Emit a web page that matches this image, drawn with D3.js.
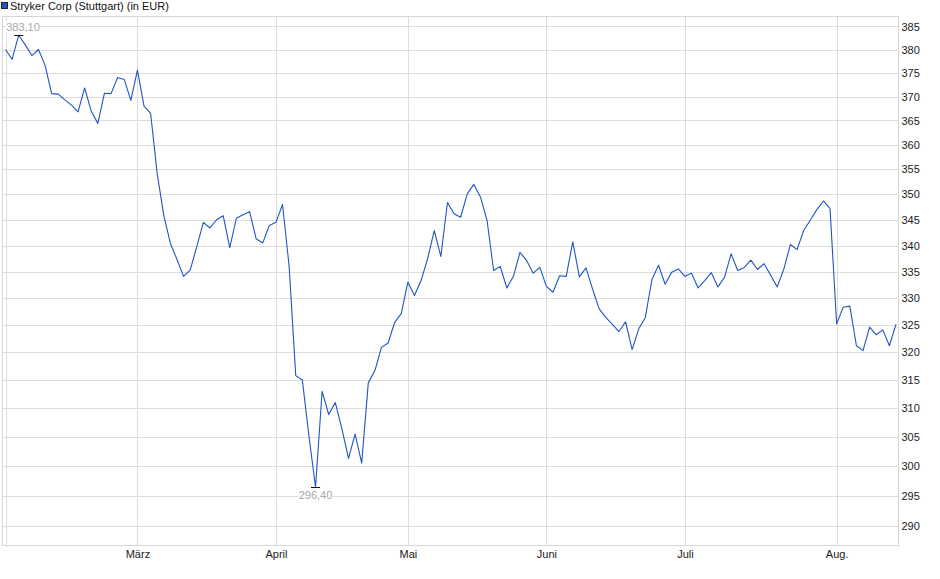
<!DOCTYPE html>
<html><head><meta charset="utf-8">
<script src="https://cdn.jsdelivr.net/npm/d3@7"></script>
<style>
html,body{margin:0;padding:0;background:#fff;}
svg{display:block;font-family:"Liberation Sans",Arial,sans-serif;}
</style></head>
<body>
<svg id="chart" width="940" height="579"></svg>
<script>
const seriesName = "Stryker Corp (Stuttgart) (in EUR)";
const prices = [
 380.0,377.9,383.1,381.0,378.7,380.0,376.6,370.6,370.5,369.3,
 368.2,366.8,371.8,366.9,364.4,370.7,370.6,374.0,373.6,369.2,
 375.6,368.0,366.5,354.1,345.8,340.4,337.3,334.1,335.3,339.8,
 344.5,343.4,345.0,345.8,339.6,345.3,346.0,346.6,341.3,340.5,
 343.9,344.5,348.0,336.0,315.8,315.0,305.2,296.4,313.0,308.9,
 311.0,306.4,301.3,305.5,300.5,314.5,316.7,320.9,321.7,325.5,
 327.1,333.0,330.5,333.3,337.5,342.9,337.9,348.4,346.2,345.5,
 350.1,352.0,349.5,344.9,335.2,336.0,331.9,334.1,338.7,337.1,
 334.7,335.8,332.2,331.1,334.2,334.1,340.7,334.0,335.7,331.7,
 328.0,326.4,325.1,323.8,325.6,320.5,324.3,326.4,333.5,336.2,
 332.6,334.9,335.5,334.1,334.7,331.9,333.3,334.8,332.1,333.9,
 338.4,335.2,335.8,337.2,335.4,336.5,334.3,332.1,335.5,340.2,
 339.2,342.9,344.9,347.0,348.7,347.2,325.2,328.3,328.5,321.2,
 320.3,324.6,323.2,324.1,321.2,325.1
];
const monthLabels = ["März","April","Mai","Juni","Juli","Aug."];
const monthTickIndex = [20,41,61,82,103,126];
const yTickValues = [290,295,300,305,310,315,320,325,330,335,340,345,350,355,360,365,370,375,380,385];
const yDomain = [286.77, 387.19];

const svg = d3.select("#chart");
const plot = {left:2.5, right:898.5, top:16.5, bottom:545.5};
const x = d3.scaleLinear().domain([0, prices.length-1]).range([5.5, 896]);
const y = d3.scaleLog().domain(yDomain).range([plot.bottom, plot.top]);
const fmt = v => d3.format(".2f")(v).replace(".", ",");
const gridColor = "#dddddd";

// horizontal grid + right axis labels
const yAxis = d3.axisRight(y).tickValues(yTickValues).tickSize(0).tickPadding(0).tickFormat(d3.format("d"));
const gy = svg.append("g").attr("transform", `translate(${plot.right+3},0)`).call(yAxis);
gy.select(".domain").remove();
gy.selectAll("text").attr("font-size", 11).attr("fill", "#222").attr("font-family", "Liberation Sans, Arial, sans-serif").attr("x", 0);
svg.append("g").selectAll("line").data(yTickValues).join("line")
  .attr("x1", plot.left).attr("x2", plot.right)
  .attr("y1", d => Math.round(y(d)) + 0.5).attr("y2", d => Math.round(y(d)) + 0.5)
  .attr("stroke", gridColor).attr("stroke-width", 1);

// vertical grid + month labels
const xAxis = d3.axisBottom(x).tickValues(monthTickIndex).tickSize(0).tickPadding(0)
  .tickFormat((d, i) => monthLabels[i]);
const gx = svg.append("g").attr("transform", `translate(0,${plot.bottom})`).call(xAxis);
gx.select(".domain").remove();
gx.selectAll("text").attr("font-size", 11).attr("fill", "#222").attr("font-family", "Liberation Sans, Arial, sans-serif").attr("dy", null).attr("y", 12);
svg.append("g").selectAll("line").data(monthTickIndex).join("line")
  .attr("x1", d => Math.round(x(d)) + 0.5).attr("x2", d => Math.round(x(d)) + 0.5)
  .attr("y1", plot.top).attr("y2", plot.bottom)
  .attr("stroke", gridColor).attr("stroke-width", 1);
// start line
svg.append("line").attr("x1", Math.round(x(0))+0.5).attr("x2", Math.round(x(0))+0.5)
  .attr("y1", plot.top).attr("y2", plot.bottom + 2).attr("stroke", gridColor);

// frame
svg.append("rect").attr("x", plot.left).attr("y", plot.top)
  .attr("width", plot.right - plot.left).attr("height", plot.bottom - plot.top)
  .attr("fill", "none").attr("stroke", "#d6d6d6").attr("stroke-width", 1);

// line
const line = d3.line().x((d, i) => x(i)).y(d => y(d));
svg.append("path").datum(prices).attr("d", line)
  .attr("fill", "none").attr("stroke", "#1f56c3").attr("stroke-width", 1.1)
  .attr("stroke-linejoin", "round");

// min / max markers
const maxI = d3.maxIndex(prices), minI = d3.minIndex(prices);
function marker(i, above) {
  const px = x(i), py = y(prices[i]);
  const g = svg.append("g");
  g.append("line").attr("x1", px - 4.5).attr("x2", px + 4.5).attr("y1", Math.round(py)+0.5).attr("y2", Math.round(py)+0.5)
    .attr("stroke", "#111").attr("stroke-width", 1);
  const txt = fmt(prices[i]);
  const tw = 32;
  let cx = Math.max(px, plot.left + 4.5 + tw/2);
  const cy = above ? py - 8.5 : py + 8;
  g.append("rect").attr("x", cx - tw/2 - 1).attr("y", cy - 6).attr("width", tw + 2).attr("height", 12).attr("fill", "#fff");
  g.append("text").attr("x", cx).attr("y", cy).attr("dy", "0.35em").attr("text-anchor", "middle")
    .attr("font-size", 11).attr("fill", "#a8a8a8").text(txt);
}
marker(maxI, true);
marker(minI, false);

// legend
svg.append("rect").attr("x", 1.5).attr("y", 2.5).attr("width", 6).attr("height", 6)
  .attr("fill", "#1f56c3").attr("stroke", "#222").attr("stroke-width", 1);
svg.append("text").attr("x", 10).attr("y", 10).attr("font-size", 11).attr("fill", "#111").text(seriesName);
</script>
</body></html>
